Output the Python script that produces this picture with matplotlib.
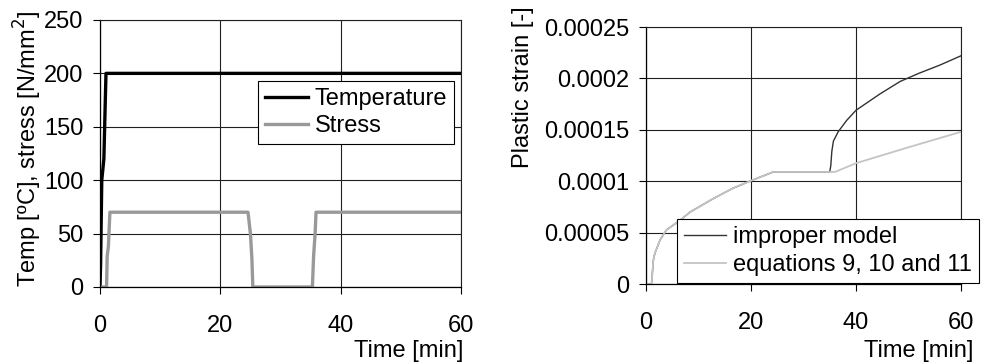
import matplotlib
matplotlib.use("Agg")
import matplotlib.pyplot as plt

plt.rcParams['font.family'] = ['Liberation Sans', 'DejaVu Sans']
plt.rcParams['font.size'] = 17

# left panel: temperature and stress history
time_temp = [0, 0.1, 0.3, 0.65, 0.9, 1.0, 60]
temperature = [0, 20, 100, 120, 178, 200, 200]

time_stress = [0, 1.1, 1.2, 1.4, 1.65, 24.6, 25.0, 25.25, 25.4, 35.3, 35.5, 35.75, 35.9, 60]
stress = [0, 0, 29, 38, 70, 70, 50, 26, 0, 0, 29, 50, 70, 70]

# right panel: plastic strain
time_common = [0, 1.0, 1.1, 1.4, 1.7, 2.7, 3.9, 6.5, 8.4, 12.8, 16.5, 20.25, 24.25, 35.0]
strain_common = [0, 0, 0.2e-5, 2.3e-5, 3.0e-5, 4.3e-5, 5.26e-5, 6.2e-5, 7.0e-5,
                 8.3e-5, 9.3e-5, 1.01e-4, 1.09e-4, 1.09e-4]
time_improper = [35.2, 35.4, 35.7, 36.6, 38.2, 40, 44.6, 48.4, 52, 56, 60]
strain_improper = [1.15e-4, 1.29e-4, 1.39e-4, 1.48e-4, 1.59e-4, 1.69e-4,
                   1.85e-4, 1.97e-4, 2.05e-4, 2.13e-4, 2.22e-4]
time_eq = [36, 40, 50, 60]
strain_eq = [1.09e-4, 1.175e-4, 1.33e-4, 1.48e-4]

x_ticks = [0, 20, 40, 60]
left_yticks = [0, 50, 100, 150, 200, 250]
right_yticks = [0, 0.00005, 0.0001, 0.00015, 0.0002, 0.00025]
right_ylabels = ['0', '0.00005', '0.0001', '0.00015', '0.0002', '0.00025']

grid_col = '#202020'


def style_axes(ax):
    ax.set_xlim(0, 60)
    ax.set_xticks(x_ticks)
    ax.grid(True, color=grid_col, lw=0.8)
    ax.set_axisbelow(True)
    for side in ['top', 'right']:
        ax.spines[side].set_color(grid_col)
        ax.spines[side].set_linewidth(0.8)
    for side in ['left', 'bottom']:
        ax.spines[side].set_color('black')
        ax.spines[side].set_linewidth(0.9)
    ax.tick_params(axis='x', direction='out', length=5, width=0.8, pad=15)
    ax.tick_params(axis='y', direction='out', length=5, width=0.8, pad=7)


fig = plt.figure(figsize=(9.82, 3.63), dpi=100)
ax1 = fig.add_axes([0.1018, 0.2094, 0.3677, 0.7356])
ax2 = fig.add_axes([0.6578, 0.2176, 0.3208, 0.708])

# left chart
ax1.plot(time_temp, temperature, color='black', lw=2.4, label='Temperature')
ax1.plot(time_stress, stress, color='#999999', lw=2.4, label='Stress')
style_axes(ax1)
ax1.set_ylim(0, 250)
ax1.set_yticks(left_yticks)
leg1 = ax1.legend(loc='upper left', bbox_to_anchor=(0.4377, 0.7715), borderaxespad=0,
                  fancybox=False, edgecolor='black', framealpha=1, handlelength=1.8,
                  handletextpad=0.3, labelspacing=0.2, borderpad=0.3)
leg1.get_frame().set_linewidth(0.8)
fig.text(463 / 982, 1 - 351 / 363, 'Time [min]', ha='right', va='center')
fig.text(28 / 982, 1 - 149 / 363, 'Temp [ºC], stress [N/mm$^2$]',
         rotation=90, ha='center', va='center')

# right chart
ax2.plot(time_common + time_improper, strain_common + strain_improper,
         color='#333333', lw=1.0, label='improper model')
ax2.plot(time_common + time_eq, strain_common + strain_eq,
         color='#c4c4c4', lw=1.3, label='equations 9, 10 and 11')
style_axes(ax2)
ax2.set_ylim(0, 0.00025)
ax2.set_yticks(right_yticks)
ax2.set_yticklabels(right_ylabels)
leg2 = ax2.legend(loc='upper left', bbox_to_anchor=(0.098, 0.2529), borderaxespad=0,
                  fancybox=False, edgecolor='black', framealpha=1, handlelength=1.8,
                  handletextpad=0.3, labelspacing=0.25, borderpad=0.3)
leg2.get_frame().set_linewidth(0.8)
fig.text(973 / 982, 1 - 351 / 363, 'Time [min]', ha='right', va='center')
fig.text(523 / 982, 1 - 168 / 363, 'Plastic strain [-]',
         rotation=90, ha='center', va='bottom')

fig.savefig('out.png', dpi=100)
